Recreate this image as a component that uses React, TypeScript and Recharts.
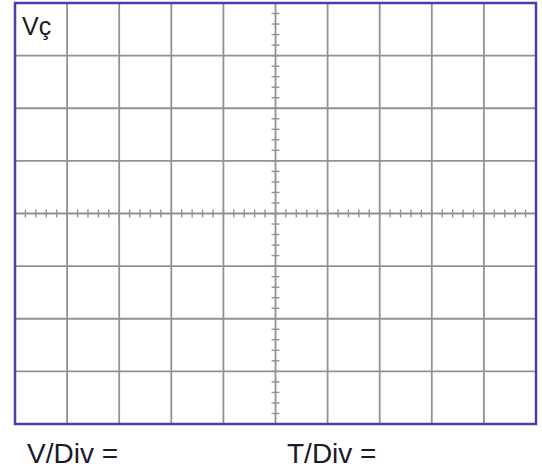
import React from 'react';
import {
    ComposedChart,
    XAxis,
    YAxis,
    CartesianGrid,
    ReferenceLine,
    ReferenceArea,
} from 'recharts';

// screen divisions of the oscilloscope graticule
const xDivisions = [0, 1, 2, 3, 4, 5, 6, 7, 8, 9, 10];
const yDivisions = [-4, -3, -2, -1, 0, 1, 2, 3, 4];
const subStep = 0.2; // 5 minor ticks per division on the center axes
const channelLabel = 'Vç';
const voltsLabel = 'V/Div =';
const timeLabel = 'T/Div =';

const xMinor: number[] = [];
for (let i = 1; i < 50; i++) xMinor.push(+(i * subStep).toFixed(2));
const yMinor: number[] = [];
for (let i = -19; i < 20; i++) yMinor.push(+(i * subStep).toFixed(2));

const chartData = xDivisions.map((x, i) => ({ x, y: yDivisions[i % yDivisions.length] }));

const W = 542;
const H = 472;
const GRID = '#929292';
const FRAME = '#4a3fa6';
const TX = 0.075; // half length of minor tick, x units
const TY = 0.075; // half length of minor tick, y units
const FONT = '"Liberation Sans", Arial, sans-serif';

export default function App() {
    return (
        <div style={{ position: 'absolute', left: 0, top: 0, width: W, height: H, background: '#fff' }}>
            <ComposedChart
                width={W}
                height={H}
                data={chartData}
                margin={{ top: 3, right: 6, bottom: 48, left: 15 }}
            >
                <XAxis dataKey="x" type="number" domain={[0, 10]} ticks={xDivisions} allowDataOverflow hide />
                <YAxis dataKey="y" type="number" domain={[-4, 4]} ticks={yDivisions} allowDataOverflow hide />
                <CartesianGrid stroke={GRID} strokeWidth={1.8} />
                {xMinor.map((x) => (
                    <ReferenceLine
                        key={'xm' + x}
                        segment={[{ x, y: -TY }, { x, y: TY }]}
                        stroke={GRID}
                        strokeWidth={1.4}
                        ifOverflow="visible"
                    />
                ))}
                {yMinor.map((y) => (
                    <ReferenceLine
                        key={'ym' + y}
                        segment={[{ x: 5 - TX, y }, { x: 5 + TX, y }]}
                        stroke={GRID}
                        strokeWidth={1.4}
                        ifOverflow="visible"
                    />
                ))}
                <ReferenceArea
                    x1={0}
                    x2={10}
                    y1={-4}
                    y2={4}
                    fill="none"
                    fillOpacity={0}
                    stroke={FRAME}
                    strokeWidth={2.5}
                    ifOverflow="visible"
                />
            </ComposedChart>
            <div style={{ position: 'absolute', left: 22, top: 12, fontFamily: FONT, fontSize: 25, color: '#1a1a1a' }}>
                {channelLabel}
            </div>
            <div style={{ position: 'absolute', left: 27, top: 438, fontFamily: FONT, fontSize: 28, color: '#1a1a2a' }}>
                {voltsLabel}
            </div>
            <div style={{ position: 'absolute', left: 287, top: 438, fontFamily: FONT, fontSize: 28, color: '#1a1a2a' }}>
                {timeLabel}
            </div>
        </div>
    );
}
